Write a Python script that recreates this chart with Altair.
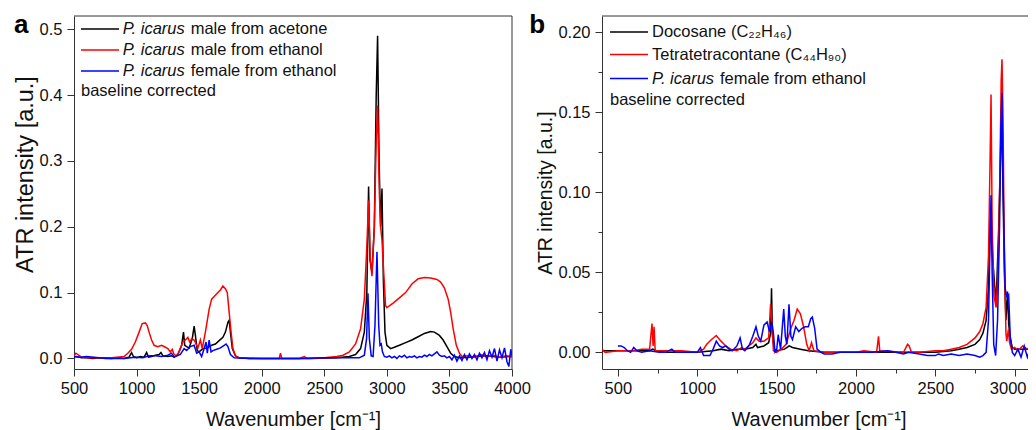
import altair as alt
import pandas as pd

FONT = "Liberation Sans"

# ---------------- panel a : (wavenumber, ATR intensity) ----------------
a_black = [(500,0.002),(520,0.003),(560,0.001),(600,0.001),(650,0.0),(700,0.001),(750,0.0),(800,0.0),
           (850,0.001),(900,0.0),(940,0.002),(960,0.009),(975,0.003),(1000,0.001),(1030,0.003),(1060,0.002),
           (1080,0.009),(1095,0.002),(1120,0.003),(1150,0.005),(1180,0.006),(1195,0.009),(1210,0.004),
           (1250,0.003),(1280,0.004),(1300,0.002),(1330,0.006),(1360,0.02),(1375,0.04),(1385,0.02),
           (1400,0.018),(1420,0.016),(1445,0.03),(1460,0.049),(1470,0.035),(1485,0.012),(1500,0.01),
           (1530,0.015),(1560,0.016),(1600,0.02),(1630,0.022),(1660,0.027),(1690,0.032),(1710,0.04),
           (1730,0.055),(1740,0.058),(1750,0.04),(1765,0.015),(1790,0.004),(1820,0.001),(1900,0.0),
           (2000,0.0),(2200,0.0),(2400,0.0),(2600,0.001),(2700,0.003),(2750,0.006),(2790,0.015),
           (2820,0.04),(2840,0.1),(2854,0.261),(2865,0.15),(2881,0.13),(2900,0.2),(2915,0.4),(2926,0.49),
           (2938,0.3),(2950,0.2),(2961,0.258),(2972,0.12),(2985,0.04),(3000,0.02),(3030,0.015),(3060,0.017),
           (3100,0.02),(3150,0.024),(3200,0.028),(3250,0.033),(3300,0.038),(3350,0.041),(3380,0.04),
           (3420,0.035),(3450,0.028),(3480,0.018),(3510,0.008),(3540,0.003),(3580,0.001),(3650,0.002),
           (3700,0.003),(3800,0.004),(3900,0.002),(4000,0.003)]

a_red = [(500,0.004),(515,0.008),(530,0.006),(560,0.002),(600,0.001),(700,0.001),(800,0.001),(900,0.003),
         (930,0.008),(960,0.014),(990,0.025),(1020,0.04),(1045,0.053),(1070,0.054),(1085,0.05),(1100,0.04),
         (1120,0.028),(1140,0.02),(1170,0.018),(1200,0.02),(1230,0.017),(1250,0.015),(1270,0.01),
         (1285,0.014),(1300,0.006),(1320,0.004),(1340,0.01),(1370,0.025),(1390,0.028),(1410,0.032),
         (1425,0.025),(1440,0.03),(1460,0.028),(1480,0.02),(1490,0.016),(1510,0.028),(1525,0.015),
         (1550,0.04),(1580,0.075),(1600,0.09),(1620,0.094),(1650,0.1),(1670,0.104),(1690,0.11),
         (1710,0.106),(1725,0.1),(1740,0.07),(1755,0.04),(1770,0.015),(1790,0.004),(1820,0.001),
         (2000,0.0),(2140,0.0),(2150,0.008),(2160,0.0),(2300,0.0),(2340,0.003),(2360,0.0),(2500,0.001),
         (2600,0.003),(2650,0.005),(2700,0.01),(2750,0.022),(2790,0.045),(2820,0.09),(2840,0.17),
         (2854,0.24),(2868,0.15),(2881,0.125),(2900,0.2),(2915,0.33),(2926,0.384),(2940,0.25),(2950,0.2),
         (2961,0.18),(2975,0.13),(2990,0.08),(3000,0.077),(3020,0.08),(3050,0.084),(3100,0.092),
         (3150,0.1),(3200,0.113),(3250,0.121),(3300,0.123),(3350,0.122),(3400,0.12),(3430,0.116),
         (3460,0.107),(3490,0.09),(3510,0.07),(3530,0.045),(3555,0.02),(3580,0.008),(3600,0.003),
         (3650,0.004),(3700,0.002),(3750,0.006),(3800,0.003),(3850,0.005),(3900,0.002),(3950,0.004),
         (4000,0.003)]

a_blue = [(500,0.003),(550,0.002),(600,0.003),(700,0.001),(800,0.0),(900,0.0),(950,0.001),(1000,0.002),
          (1050,0.001),(1100,0.004),(1150,0.004),(1200,0.003),(1250,0.005),(1280,0.008),(1300,0.002),
          (1350,0.006),(1380,0.015),(1400,0.012),(1430,0.018),(1460,0.02),(1480,0.008),(1500,0.01),
          (1520,0.003),(1540,0.015),(1555,0.025),(1565,0.008),(1580,0.028),(1595,0.01),(1610,0.012),
          (1640,0.014),(1670,0.016),(1700,0.02),(1715,0.022),(1730,0.018),(1750,0.006),(1780,0.001),
          (1900,0.0),(2100,0.0),(2300,0.0),(2500,0.001),(2700,0.001),(2780,0.001),(2820,0.005),
          (2838,0.03),(2849,0.099),(2860,0.03),(2875,0.004),(2890,0.003),(2905,0.05),(2921,0.162),
          (2935,0.05),(2945,0.02),(2955,0.022),(2965,0.01),(2980,0.003),
          (3000,0.002),(3020,0.004),(3040,0.001),(3060,0.003),(3080,0.0),(3100,0.004),(3120,0.002),
          (3140,0.005),(3160,0.001),(3180,0.003),(3200,0.002),(3220,0.004),(3240,0.001),(3260,0.003),
          (3280,0.002),(3300,0.005),(3320,0.003),(3340,0.006),(3360,0.004),(3380,0.007),(3400,0.01),
          (3420,0.005),(3440,0.003),(3460,0.004),(3480,0.001),(3500,0.003),(3520,-0.002),(3540,0.005),
          (3560,-0.004),(3580,0.004),(3600,-0.003),(3620,0.006),(3640,-0.002),(3660,0.007),(3680,0.0),
          (3700,0.006),(3720,-0.002),(3740,0.008),(3760,0.001),(3780,0.009),(3800,-0.002),(3820,0.012),
          (3840,0.002),(3860,0.015),(3880,-0.004),(3900,0.013),(3920,0.001),(3940,0.016),(3960,-0.005),
          (3975,-0.012),(3990,0.014),(4000,0.004)]

# ---------------- panel b ----------------
b_black = [(400,0.001),(500,0.001),(600,0.001),(700,0.001),(720,0.002),(740,0.001),(800,0.0),(900,0.0),
           (1000,0.0),(1100,0.001),(1150,0.002),(1200,0.001),(1250,0.002),(1300,0.002),(1350,0.003),
           (1370,0.005),(1380,0.003),(1420,0.004),(1450,0.006),(1462,0.012),(1468,0.04),(1474,0.01),
           (1485,0.002),(1500,0.001),(1550,0.002),(1580,0.004),(1600,0.003),(1650,0.002),(1700,0.001),
           (1800,0.0),(2000,0.0),(2300,0.0),(2500,0.0),(2600,0.001),(2650,0.002),(2700,0.003),
           (2750,0.005),(2780,0.008),(2800,0.012),(2820,0.02),(2835,0.04),(2845,0.08),(2851,0.09),
           (2860,0.06),(2883,0.03),(2900,0.08),(2918,0.15),(2935,0.05),(2945,0.02),(2955,0.038),
           (2962,0.018),(2970,0.01),(2985,0.003),(3000,0.002),(3050,0.002),(3100,0.002),(3130,0.002)]

b_red = [(400,0.002),(420,0.0),(500,0.001),(600,0.001),(650,0.002),(700,0.002),(715,0.018),(722,0.004),
         (728,0.016),(735,0.001),(800,0.001),(900,0.001),(1000,0.0),(1040,0.002),(1060,0.005),(1090,0.008),
         (1120,0.0105),(1150,0.007),(1180,0.004),(1210,0.002),(1250,0.001),(1280,0.003),(1300,0.002),
         (1350,0.006),(1370,0.009),(1390,0.007),(1420,0.007),(1450,0.009),(1462,0.03),(1470,0.02),
         (1480,0.001),(1500,0.0),(1530,0.002),(1560,0.005),(1590,0.015),(1610,0.02),(1630,0.027),
         (1650,0.024),(1670,0.016),(1690,0.005),(1705,0.001),(1720,0.006),(1735,0.001),(1800,0.0),
         (2000,0.0),(2050,0.001),(2130,0.0),(2142,0.01),(2150,0.001),(2300,0.0),(2325,0.005),
         (2335,0.004),(2350,0.0),(2400,0.0),(2500,0.001),(2550,0.001),(2600,0.002),(2650,0.003),
         (2700,0.005),(2750,0.009),(2780,0.013),(2800,0.018),(2820,0.028),(2835,0.06),(2845,0.12),
         (2851,0.161),(2858,0.08),(2870,0.035),(2883,0.028),(2895,0.05),(2905,0.1),(2915,0.17),
         (2920,0.183),(2926,0.15),(2935,0.06),(2945,0.012),(2950,0.007),(2960,0.014),(2968,0.006),
         (2980,0.002),(3000,0.003),(3020,0.001),(3050,0.004),(3080,0.002),(3100,0.004),(3130,0.003)]

b_blue = [(500,0.004),(520,0.004),(540,0.003),(560,0.001),(580,0.0),(600,0.003),(620,0.001),(650,0.0),
          (700,0.001),(760,0.0),(800,0.0),(840,0.002),(860,0.0),(900,0.0),(950,0.0),(1000,0.0),
          (1020,0.003),(1040,-0.002),(1080,-0.002),(1100,0.002),(1120,0.007),(1140,0.004),(1160,0.003),
          (1180,0.004),(1200,0.002),(1220,0.001),(1250,0.004),(1270,0.009),(1285,0.002),(1300,0.001),
          (1330,0.005),(1350,0.01),(1370,0.016),(1385,0.01),(1400,0.007),(1420,0.017),(1440,0.019),
          (1455,0.013),(1470,0.019),(1480,0.012),(1490,0.0),(1500,0.001),(1510,0.011),(1525,0.002),
          (1545,0.027),(1555,0.01),(1565,0.005),(1578,0.03),(1590,0.01),(1600,0.008),(1620,0.016),
          (1640,0.013),(1660,0.015),(1680,0.016),(1700,0.016),(1715,0.021),(1725,0.022),(1740,0.015),
          (1755,0.002),(1780,0.0),(1800,-0.001),(1850,-0.001),(1900,0.0),(2000,0.0),(2100,0.0),
          (2200,0.001),(2250,0.0),(2300,-0.001),(2330,0.0),(2400,-0.001),(2450,-0.002),(2500,-0.002),
          (2520,-0.001),(2550,-0.002),(2600,-0.001),(2650,-0.002),(2700,-0.001),(2750,-0.002),
          (2780,-0.003),(2800,-0.002),(2820,0.0),(2835,0.02),(2845,0.07),(2851,0.098),(2858,0.05),
          (2868,0.005),(2880,-0.002),(2892,0.02),(2905,0.08),(2913,0.14),(2920,0.162),(2928,0.1),
          (2940,0.04),(2950,0.035),(2962,0.036),(2972,0.01),(2985,0.0),(3000,-0.002),(3020,0.002),
          (3040,-0.003),(3060,0.004),(3080,-0.003),(3100,0.003),(3120,-0.002),(3130,0.002)]

# ---------------- axes ----------------
a_xdom = [500, 4000]
a_ydom = [-0.016, 0.52]
b_xdom = [400, 3128]
b_ydom = [-0.0104, 0.21]
a_xticks = [500, 750, 1000, 1250, 1500, 1750, 2000, 2250, 2500, 2750, 3000, 3250, 3500, 3750, 4000]
a_yticks = [0.0, 0.05, 0.1, 0.15, 0.2, 0.25, 0.3, 0.35, 0.4, 0.45, 0.5]
b_xticks = [500, 750, 1000, 1250, 1500, 1750, 2000, 2250, 2500, 2750, 3000]
b_yticks = [0.0, 0.025, 0.05, 0.075, 0.1, 0.125, 0.15, 0.175, 0.2]

# legend rows: (y, colour, italic part, roman part)
a_legend = [(13, "#000000", "P. icarus", "male from acetone"),
            (34, "#ff0000", "P. icarus", "male from ethanol"),
            (55, "#0000ff", "P. icarus", "female from ethanol"),
            (75, None, "", "baseline corrected")]
b_legend = [(16, "#000000", "", "Docosane (C₂₂H₄₆)"),
            (38.5, "#ff0000", "", "Tetratetracontane (C₄₄H₉₀)"),
            (62.5, "#0000ff", "P. icarus", "female from ethanol"),
            (84, None, "", "baseline corrected")]

AX = "#333333"
W_A, W_B, H = 438, 433, 353
ONE = pd.DataFrame({"k": [0]})


def df(points):
    return pd.DataFrame(points, columns=["wn", "atr"])


def axis_x(values, last_shift):
    return alt.Axis(values=values, labelExpr="datum.value % 500 === 0 ? datum.label : ''",
                    tickSize={"condition": {"test": "datum.value % 500 === 0", "value": 7}, "value": 4},
                    labelOffset={"condition": {"test": "datum.value === 3000", "value": last_shift}, "value": 0},
                    format="d", grid=False, labelFlush=False, labelOverlap=False,
                    labelFontSize=16.5, labelPadding=4, titleFontSize=20, titlePadding=13,
                    domainColor=AX, tickColor=AX, labelColor="#111", titleColor="#111",
                    labelFont=FONT, titleFont=FONT, titleFontWeight="normal")


def axis_y(values, fmt, test, tsize, ty):
    return alt.Axis(values=values, format=fmt,
                    labelExpr="(" + test + ") ? datum.label : ''",
                    tickSize={"condition": {"test": test, "value": 7}, "value": 4},
                    grid=False, labelFlush=False, labelOverlap=False,
                    labelFontSize=16.5, labelPadding=5, titleFontSize=tsize, titlePadding=2,
                    titleY=ty, domainColor=AX, tickColor=AX, labelColor="#111", titleColor="#111",
                    labelFont=FONT, titleFont=FONT, titleFontWeight="normal")


def panel(series, xdom, ydom, xaxis, yaxis, width, legend, letter, letter_x, right_border):
    x = alt.X("wn:Q", scale=alt.Scale(domain=xdom, nice=False, zero=False), axis=xaxis,
              title="Wavenumber [cm⁻¹]")
    y = alt.Y("atr:Q", scale=alt.Scale(domain=ydom, nice=False, zero=False), axis=yaxis,
              title="ATR intensity [a.u.]")
    layers = []
    for pts, col in series:
        layers.append(alt.Chart(df(pts)).mark_line(color=col, strokeWidth=1.5, clip=True)
                      .encode(x=x, y=y))
    layers.append(alt.Chart(pd.DataFrame({"atr": [ydom[1]]})).mark_rule(color=AX, strokeWidth=1)
                  .encode(y="atr:Q"))
    if right_border:
        layers.append(alt.Chart(pd.DataFrame({"wn": [xdom[1]]})).mark_rule(color=AX, strokeWidth=1)
                      .encode(x="wn:Q"))
    lx0 = 7 if right_border else 8
    tx = 48.7 if right_border else 50
    for ry, col, ital, rom in legend:
        if col:
            layers.append(alt.Chart(ONE).mark_rule(color=col, strokeWidth=1.5)
                          .encode(x=alt.value(lx0), x2=alt.value(lx0 + 38), y=alt.value(ry)))
            start = tx
        else:
            start = lx0
        if ital:
            layers.append(alt.Chart(ONE).mark_text(text=ital, font=FONT, fontSize=16.5, fontStyle="italic",
                                                   align="left", baseline="middle", color="#111")
                          .encode(x=alt.value(start), y=alt.value(ry)))
            start = start + 68
        layers.append(alt.Chart(ONE).mark_text(text=rom, font=FONT, fontSize=16.5,
                                               align="left", baseline="middle", color="#111")
                      .encode(x=alt.value(start), y=alt.value(ry)))
    layers.append(alt.Chart(ONE).mark_text(text=letter, font=FONT, fontSize=26, fontWeight="bold",
                                           align="left", baseline="alphabetic", color="#000")
                  .encode(x=alt.value(letter_x), y=alt.value(16.7)))
    return alt.layer(*layers).properties(width=width, height=H)


left = panel([(a_black, "#000000"), (a_red, "#ff0000"), (a_blue, "#0000ff")],
             a_xdom, a_ydom, axis_x(a_xticks, 0),
             axis_y(a_yticks, ".1f", "round(datum.value*100) % 10 === 0", 23.5, 158),
             W_A, a_legend, "a", -60, True)
right = panel([(b_black, "#000000"), (b_red, "#ff0000"), (b_blue, "#0000ff")],
              b_xdom, b_ydom, axis_x(b_xticks, -7),
              axis_y(b_yticks, ".2f", "round(datum.value*1000) % 50 === 0", 19.5, 176.5),
              W_B, b_legend, "b", -72.7, False)

chart = (alt.hconcat(left, right, spacing=-2)
         .properties(padding={"left": 5, "top": 3, "right": -8, "bottom": 0})
         .configure(font=FONT)
         .configure_view(strokeWidth=0))

chart.save("out.html", embed_options={"renderer": "svg", "actions": False})
